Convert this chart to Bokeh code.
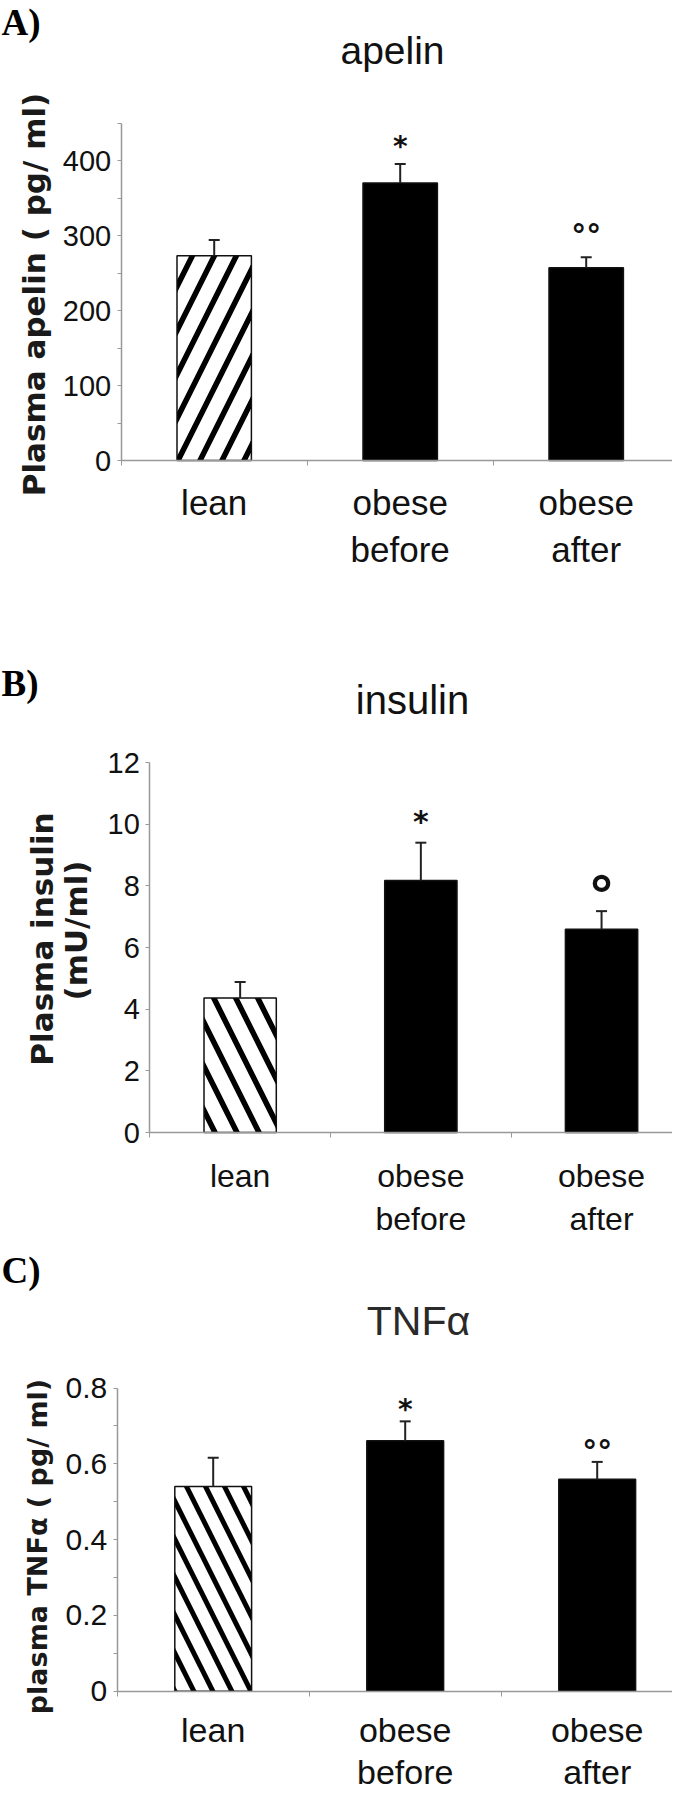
import math
from bokeh.plotting import figure
from bokeh.models import ColumnDataSource, Whisker, TeeHead, FixedTicker, Range1d
from bokeh.layouts import column
from bokeh.core.properties import value
from bokeh.embed import file_html
from bokeh.resources import INLINE

# ---------------- data ----------------
categories = ["lean", "obese\nbefore", "obese\nafter"]
bar_fill = ["white", "black", "black"]

apelin_mean = [273, 370, 257]
apelin_err = [21, 25.5, 14]
apelin_marks = ["", "*", "°°"]
apelin_mark_y = [None, 419, 300]
apelin_ticks = [0, 100, 200, 300, 400]
apelin_tick_labels = ["0", "100", "200", "300", "400"]
apelin_minor = [50, 150, 250, 350, 450]

insulin_mean = [4.36, 8.17, 6.59]
insulin_err = [0.52, 1.23, 0.59]
insulin_marks = ["", "*", "°"]
insulin_mark_y = [None, 10.1, 7.67]
insulin_ticks = [0, 2, 4, 6, 8, 10, 12]
insulin_tick_labels = ["0", "2", "4", "6", "8", "10", "12"]
insulin_minor = []

tnf_mean = [0.540, 0.661, 0.559]
tnf_err = [0.076, 0.051, 0.046]
tnf_marks = ["", "*", "°°"]
tnf_mark_y = [None, 0.743, 0.633]
tnf_ticks = [0, 0.2, 0.4, 0.6, 0.8]
tnf_tick_labels = ["0", "0.2", "0.4", "0.6", "0.8"]
tnf_minor = [0.1, 0.3, 0.5, 0.7]

SANS = "Liberation Sans"
BOLD_SANS = "DejaVu Sans"
SERIF = "Liberation Serif"
FIG_W = 672
MID = 0.345  # distance (in em) from alphabetic baseline up to the "middle" anchor


def fs(size):
    return float(size.replace("px", ""))


def make_panel(letter, title_text, ylabel_lines, mean, err, marks, mark_y, ticks, tick_labels,
               minor, ymax, hatch, g):
    n = len(categories)
    xs = [i + 0.5 for i in range(n)]
    H = g["height"]
    ax, ay, cw, pp = g["axis_x"], g["axis_y"], g["cat_w"], g["px_per"]
    x_end = (FIG_W - ax) / cw

    def dx(px):
        return (px - ax) / cw

    def dy(py):
        return (ay - py) / pp

    p = figure(width=FIG_W, height=H, output_backend="svg", toolbar_location=None,
               x_range=Range1d(dx(0), dx(FIG_W)), y_range=Range1d(dy(H), dy(0)),
               min_border_left=0, min_border_right=0, min_border_top=0, min_border_bottom=0)
    try:
        p.frame_align = False
    except Exception:
        pass
    p.outline_line_color = None
    p.grid.visible = False
    p.background_fill_color = "white"
    p.border_fill_color = "white"

    src = ColumnDataSource(dict(
        x=xs, mean=mean, upper=[m + e for m, e in zip(mean, err)],
        fill=bar_fill, hatch=[hatch, " ", " "],
    ))
    p.vbar(x="x", top="mean", width=0.4, source=src, fill_color="fill",
           line_color="#111111", line_width=1.5, hatch_pattern="hatch",
           hatch_color="black", hatch_weight=g["hatch_weight"], hatch_scale=g["hatch_scale"])

    w = Whisker(source=src, base="x", upper="upper", lower="mean", dimension="height",
                line_color="#222222", line_width=2,
                upper_head=TeeHead(size=11, line_width=2, line_color="#222222"),
                lower_head=None, level="glyph")
    p.add_layout(w)

    mx, my, mt, ms = [], [], [], []
    for x, y, t in zip(xs, mark_y, marks):
        if t:
            mx.append(x)
            my.append(y)
            mt.append(t)
            ms.append(g["star_size"] if t == "*" else g["ring_size"][len(t) - 1])
    msrc = ColumnDataSource(dict(x=mx, y=my, t=mt, s=ms))
    p.text(x="x", y="y", text="t", source=msrc, text_align="center", text_baseline="middle",
           text_font=value(BOLD_SANS), text_font_size="s", text_font_style="bold",
           text_color="#111111")

    # x axis, fixed at y = 0
    xa = p.xaxis[0]
    xa.fixed_location = 0
    xa.bounds = (0, x_end)
    xa.ticker = FixedTicker(ticks=xs, minor_ticks=[i for i in range(n + 1)])
    xa.major_label_overrides = {x: c for x, c in zip(xs, categories)}
    xa.major_tick_out = 0
    xa.major_tick_in = 0
    xa.minor_tick_out = 5
    xa.minor_tick_in = 0
    xa.minor_tick_line_color = "#999999"
    xa.axis_line_color = "#999999"
    xa.axis_line_width = 1.5
    xa.major_label_text_font = SANS
    xa.major_label_text_font_size = g["cat_size"]
    xa.major_label_text_color = "#111111"
    xa.major_label_text_line_height = g["cat_lh"]
    xa.major_label_standoff = g["cat_standoff"]

    # y axis, fixed at x = 0
    ya = p.yaxis[0]
    ya.fixed_location = 0
    ya.bounds = (0, ymax)
    ya.ticker = FixedTicker(ticks=ticks, minor_ticks=minor)
    ya.major_label_overrides = {t: l for t, l in zip(ticks, tick_labels)}
    ya.axis_line_color = "#999999"
    ya.axis_line_width = 1.5
    ya.major_tick_line_color = "#999999"
    ya.minor_tick_line_color = "#999999"
    ya.major_tick_out = 4
    ya.major_tick_in = 0
    ya.minor_tick_out = 4
    ya.minor_tick_in = 0
    ya.major_label_text_font = SANS
    ya.major_label_text_font_size = g["tick_size"]
    ya.major_label_text_color = "#111111"
    ya.major_label_standoff = 6

    # y axis title (rotated), chart title, panel letter; anchors at text middle
    ysz = fs(g["ylab_size"])
    for line, bx, cy in zip(ylabel_lines, g["ylab_x"], g["ylab_cy"]):
        p.text(x=[dx(bx - MID * ysz)], y=[dy(cy)], text=[line], angle=math.pi / 2,
               text_align="center", text_baseline="middle",
               text_font=value(BOLD_SANS), text_font_style="bold",
               text_font_size=g["ylab_size"], text_color="#1a1a1a")
    tsz = fs(g["title_size"])
    p.text(x=[dx(g["title_cx"])], y=[dy(g["title_base"] - MID * tsz)], text=[title_text],
           text_align="center", text_baseline="middle", text_font=value(SANS),
           text_font_size=g["title_size"], text_color=g.get("title_color", "#111111"))
    lsz = 37.0
    p.text(x=[dx(1)], y=[dy(g["letter_base"] - 0.3375 * lsz)], text=[letter],
           text_align="left", text_baseline="middle", text_font=value(SERIF),
           text_font_style="bold", text_font_size="37px", text_color="black")
    return p


gA = dict(height=638, axis_x=120.7, axis_y=460, cat_w=186, px_per=0.75,
          title_cx=392, title_base=63, title_size="39px", letter_base=34,
          ylab_x=[44], ylab_cy=[294], ylab_size="31px",
          hatch_weight=5.5, hatch_scale=44, star_size="28px", ring_size=["54px", "30px"],
          cat_size="35px", cat_lh=1.23, cat_standoff=17, tick_size="29px")
gB = dict(height=610, axis_x=149.3, axis_y=494, cat_w=180.7, px_per=30.83,
          title_cx=412, title_base=75, title_size="40px", letter_base=57,
          ylab_x=[52, 86], ylab_cy=[300.5, 292], ylab_size="31px",
          hatch_weight=5.5, hatch_scale=44, star_size="30px", ring_size=["54px", "30px"],
          cat_size="32px", cat_lh=1.21, cat_standoff=20, tick_size="29px")
gC = dict(height=544, axis_x=116.7, axis_y=442.7, cat_w=192, px_per=379,
          title_cx=418, title_base=87, title_size="41px", title_color="#2a2a2a",
          letter_base=34, ylab_x=[46.5], ylab_cy=[298], ylab_size="27px",
          hatch_weight=5, hatch_scale=38, star_size="28px", ring_size=["54px", "30px"],
          cat_size="34px", cat_lh=1.095, cat_standoff=15, tick_size="30px")

pA = make_panel("A)", "apelin", ["Plasma apelin ( pg/ ml)"], apelin_mean, apelin_err,
                apelin_marks, apelin_mark_y, apelin_ticks, apelin_tick_labels, apelin_minor,
                450, "/", gA)
pB = make_panel("B)", "insulin", ["Plasma insulin", "(mU/ml)"], insulin_mean, insulin_err,
                insulin_marks, insulin_mark_y, insulin_ticks, insulin_tick_labels, insulin_minor,
                12, "\\", gB)
pC = make_panel("C)", "TNFα", ["plasma TNFα ( pg/ ml)"], tnf_mean, tnf_err,
                tnf_marks, tnf_mark_y, tnf_ticks, tnf_tick_labels, tnf_minor,
                0.8, "\\", gC)

layout = column(pA, pB, pC, spacing=0)
open("out.html", "w").write(file_html(layout, INLINE))
